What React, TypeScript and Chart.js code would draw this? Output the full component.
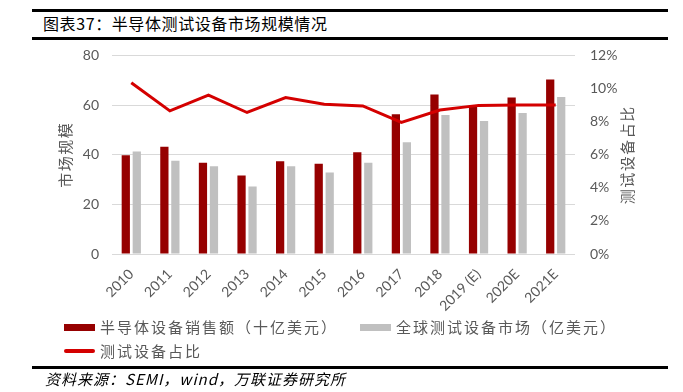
import React, { useEffect, useRef } from 'react';
import { Chart, registerables } from 'chart.js';

Chart.register(...registerables);

const categories = ['2010', '2011', '2012', '2013', '2014', '2015', '2016', '2017', '2018', '2019 (E)', '2020E', '2021E'];
const semiSales = [39.8, 43.2, 36.8, 31.6, 37.4, 36.4, 41.0, 56.3, 64.3, 60.0, 63.0, 70.3];
const testMarket = [41.3, 37.6, 35.3, 27.2, 35.3, 32.8, 36.8, 45.0, 56.0, 53.6, 56.8, 63.2];
const testShare = [10.35, 8.65, 9.6, 8.55, 9.45, 9.05, 8.95, 7.95, 8.7, 8.98, 9.0, 9.0];

const titleText = '图表37：半导体测试设备市场规模情况';
const sourceText = '资料来源：SEMI，wind，万联证券研究所';
const seriesNames = ['半导体设备销售额（十亿美元）', '全球测试设备市场（亿美元）', '测试设备占比'];
const leftAxisTitle = '市场规模';
const rightAxisTitle = '测试设备占比';
const leftMax = 80;
const leftStep = 20;
const rightMax = 12;
const rightStep = 2;

const RED_BAR = '#960000';
const GRAY_BAR = '#c0c0c0';
const RED_LINE = '#d40000';
const TEXT_GRAY = '#595959';
const CJK = '"Noto Sans CJK SC", "Noto Sans", sans-serif';

const axisTitlesPlugin = {
  id: 'axisTitles',
  afterDraw(chart: any) {
    const { ctx, chartArea } = chart;
    const cy = (chartArea.top + chartArea.bottom) / 2;
    ctx.save();
    ctx.font = `15px ${CJK}`;
    ctx.fillStyle = TEXT_GRAY;
    (ctx as any).letterSpacing = '1.5px';
    ctx.textAlign = 'center';
    ctx.textBaseline = 'middle';
    const items: [number, string][] = [
      [chartArea.left - 47, leftAxisTitle],
      [chartArea.right + 52, rightAxisTitle],
    ];
    items.forEach(([x, t]) => {
      ctx.save();
      ctx.translate(x, cy);
      ctx.rotate(-Math.PI / 2);
      ctx.fillText(t, 0, 0);
      ctx.restore();
    });
    ctx.restore();
  },
};

export default function App() {
  const canvasRef = useRef<HTMLCanvasElement | null>(null);

  useEffect(() => {
    if (!canvasRef.current) return;
    const tickFont = { family: 'Lato, "Open Sans", sans-serif', size: 14 };
    const chart = new Chart(canvasRef.current, {
      type: 'bar',
      data: {
        labels: categories,
        datasets: [
          {
            type: 'line',
            label: seriesNames[2],
            data: testShare,
            yAxisID: 'y1',
            borderColor: RED_LINE,
            backgroundColor: RED_LINE,
            borderWidth: 3,
            pointRadius: 0,
            tension: 0,
            order: 0,
          } as any,
          {
            type: 'bar',
            label: seriesNames[0],
            data: semiSales,
            yAxisID: 'y',
            backgroundColor: RED_BAR,
            categoryPercentage: 0.57,
            barPercentage: 0.75,
            order: 1,
          },
          {
            type: 'bar',
            label: seriesNames[1],
            data: testMarket,
            yAxisID: 'y',
            backgroundColor: GRAY_BAR,
            categoryPercentage: 0.57,
            barPercentage: 0.75,
            order: 1,
          },
        ],
      },
      options: {
        responsive: false,
        animation: false,
        layout: { padding: { top: 0, left: 0, right: 0, bottom: 0 } },
        plugins: {
          legend: { display: false },
          tooltip: { enabled: false },
        },
        scales: {
          x: {
            grid: { display: false, drawTicks: false },
            border: { display: false },
            ticks: {
              color: TEXT_GRAY,
              font: tickFont,
              minRotation: 45,
              maxRotation: 45,
              autoSkip: false,
              padding: 12,
            },
            afterFit: (s: any) => {
              s.height = 64;
            },
          },
          y: {
            position: 'left',
            min: 0,
            max: leftMax,
            grid: { color: '#d9d9d9', lineWidth: 1, drawTicks: false },
            border: { display: false },
            ticks: { stepSize: leftStep, color: TEXT_GRAY, font: tickFont, padding: 13 },
            afterFit: (s: any) => {
              s.width = 112;
            },
          },
          y1: {
            position: 'right',
            min: 0,
            max: rightMax,
            grid: { display: false, drawTicks: false },
            border: { display: false },
            ticks: {
              stepSize: rightStep,
              color: TEXT_GRAY,
              font: tickFont,
              padding: 15,
              callback: (v: any) => `${v}%`,
            },
            afterFit: (s: any) => {
              s.width = 108;
            },
          },
        },
      },
      plugins: [axisTitlesPlugin],
    });
    return () => chart.destroy();
  }, []);

  const legendText: React.CSSProperties = {
    position: 'absolute',
    font: `15px ${CJK}`,
    color: TEXT_GRAY,
    letterSpacing: '2px',
    lineHeight: '20px',
    whiteSpace: 'nowrap',
  };

  return (
    <div style={{ position: 'absolute', left: 0, top: 0, width: 683, height: 392, background: '#fff', overflow: 'hidden' }}>
      <div style={{ position: 'absolute', left: 32, top: 9, width: 636, height: 3, background: '#000' }} />
      <div style={{ position: 'absolute', left: 43, top: 13, font: `16px ${CJK}`, color: '#000', lineHeight: '20px', letterSpacing: '0.6px', whiteSpace: 'nowrap' }}>{titleText}</div>
      <div style={{ position: 'absolute', left: 32, top: 37, width: 636, height: 2.5, background: '#000' }} />
      <canvas ref={canvasRef} width={683} height={286} style={{ position: 'absolute', left: 0, top: 32, width: 683, height: 286 }} />
      <div style={{ position: 'absolute', left: 64, top: 323.5, width: 31, height: 7, background: RED_BAR }} />
      <div style={{ ...legendText, left: 100, top: 317 }}>{seriesNames[0]}</div>
      <div style={{ position: 'absolute', left: 360, top: 323.5, width: 31, height: 7, background: GRAY_BAR }} />
      <div style={{ ...legendText, left: 396, top: 317 }}>{seriesNames[1]}</div>
      <div style={{ position: 'absolute', left: 64, top: 349, width: 31, height: 3.5, background: RED_LINE, borderRadius: 2 }} />
      <div style={{ ...legendText, left: 100, top: 341 }}>{seriesNames[2]}</div>
      <div style={{ position: 'absolute', left: 32, top: 366, width: 636, height: 2.5, background: '#000' }} />
      <div style={{ position: 'absolute', left: 45, top: 369, font: `italic 15px ${CJK}`, color: '#000', lineHeight: '20px', letterSpacing: '1px', whiteSpace: 'nowrap' }}>{sourceText}</div>
    </div>
  );
}
